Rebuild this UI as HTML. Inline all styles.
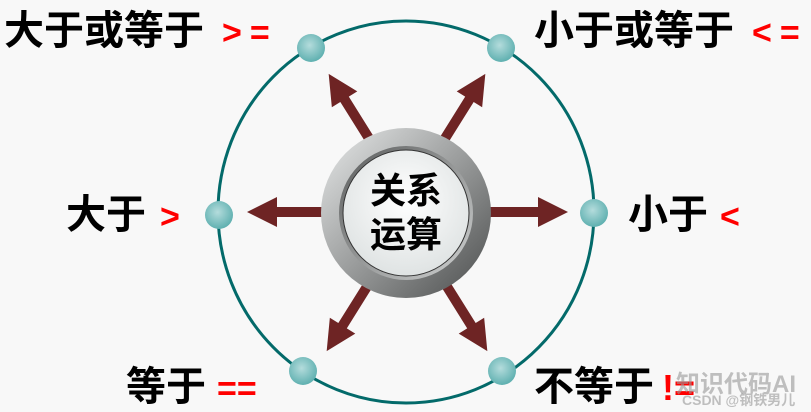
<!DOCTYPE html>
<html><head><meta charset="utf-8"><style>
html,body{margin:0;padding:0;background:#f8f8f8;}
svg{display:block}
text{font-family:"Liberation Sans","Noto Sans CJK SC",sans-serif;font-weight:bold}
.r{letter-spacing:8px}
</style></head><body>
<svg width="811" height="412" viewBox="0 0 811 412" xmlns="http://www.w3.org/2000/svg">
<defs>
<radialGradient id="dot" cx="45%" cy="40%" r="60%"><stop offset="0" stop-color="#b4dcdc"/><stop offset="1" stop-color="#5fb0b0"/></radialGradient>
<linearGradient id="ring" x1="0" y1="0" x2="1" y2="1"><stop offset="0" stop-color="#e8eaea"/><stop offset="0.5" stop-color="#9a9c9c"/><stop offset="1" stop-color="#4a4c4c"/></linearGradient>
<linearGradient id="ring2" x1="0" y1="0" x2="1" y2="1"><stop offset="0" stop-color="#5a5c5c"/><stop offset="1" stop-color="#d0d2d2"/></linearGradient>
<radialGradient id="face" cx="50%" cy="40%" r="60%"><stop offset="0" stop-color="#ffffff"/><stop offset="1" stop-color="#dfe3e3"/></radialGradient>
<g id="arr"><polygon points="0,-5 48,-5 48,-15 78,0 48,15 48,5 0,5" fill="#6e2424"/></g>
</defs>
<ellipse cx="406" cy="212" rx="188" ry="191" fill="none" stroke="#036a6a" stroke-width="3"/>
<use href="#arr" transform="translate(325,212) rotate(180)"/>
<use href="#arr" transform="translate(490,212)"/>
<use href="#arr" transform="translate(370,140) rotate(-122)"/>
<use href="#arr" transform="translate(444,140) rotate(-58)"/>
<use href="#arr" transform="translate(368,285) rotate(122)"/>
<use href="#arr" transform="translate(446,285) rotate(58)"/>
<circle cx="406" cy="213" r="85" fill="url(#ring)"/>
<circle cx="406" cy="213" r="67" fill="url(#ring2)"/>
<circle cx="406" cy="213" r="63" fill="url(#face)" stroke="#333" stroke-width="1"/>
<text x="406" y="203" font-size="36" text-anchor="middle" fill="#000">关系</text>
<text x="406" y="247" font-size="36" text-anchor="middle" fill="#000">运算</text>
<circle cx="311" cy="48" r="14" fill="url(#dot)"/>
<circle cx="501" cy="48" r="14" fill="url(#dot)"/>
<circle cx="219" cy="215" r="14" fill="url(#dot)"/>
<circle cx="594" cy="213" r="14" fill="url(#dot)"/>
<circle cx="303" cy="371" r="14" fill="url(#dot)"/>
<circle cx="502" cy="371" r="14" fill="url(#dot)"/>
<text x="4" y="44" font-size="40" fill="#000">大于或等于</text>
<text x="222" y="44" font-size="34" fill="#f00" class="r">&gt;=</text>
<text x="534" y="44" font-size="40" fill="#000">小于或等于</text>
<text x="752" y="44" font-size="34" fill="#f00" class="r">&lt;=</text>
<text x="66" y="228" font-size="40" fill="#000">大于</text>
<text x="160" y="228" font-size="34" fill="#f00">&gt;</text>
<text x="628" y="228" font-size="40" fill="#000">小于</text>
<text x="720" y="228" font-size="34" fill="#f00">&lt;</text>
<text x="126" y="400" font-size="40" fill="#000">等于</text>
<text x="217" y="400" font-size="34" fill="#f00">==</text>
<text x="534" y="400" font-size="40" fill="#000">不等于</text>
<text x="662" y="400" font-size="36" fill="#f00">!=</text>
<text x="676" y="392" font-size="24" fill="#999" opacity="0.6" font-weight="normal">知识代码AI</text>
<text x="682" y="405" font-size="14" fill="#999" opacity="0.6" font-weight="normal">CSDN @钢铁男儿</text>
</svg>
</body></html>
